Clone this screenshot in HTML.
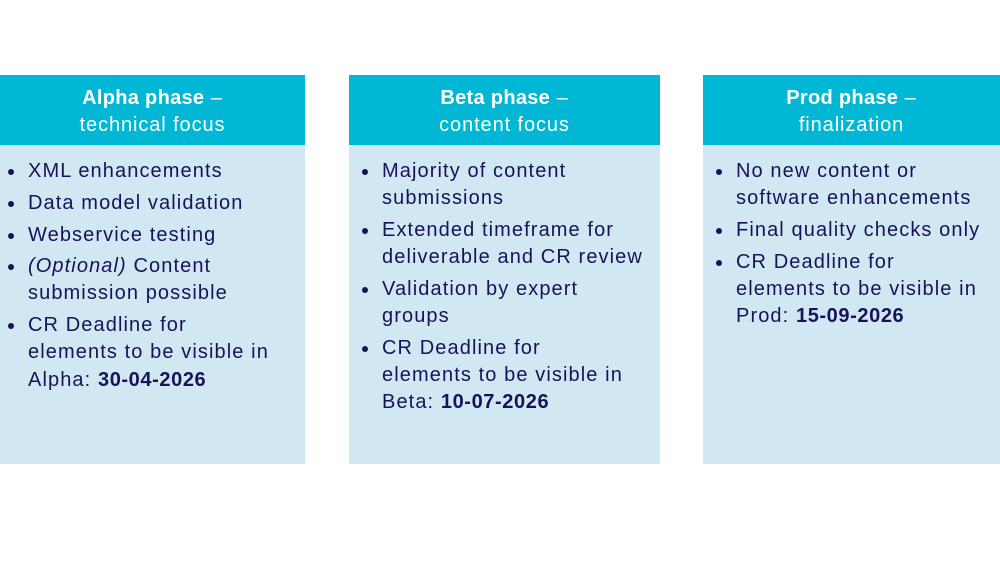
<!DOCTYPE html>
<html><head><meta charset="utf-8"><style>
body{margin:0;width:1000px;height:563px;background:#fff;position:relative;overflow:hidden;font-family:"Liberation Sans",sans-serif}
.col{position:absolute;top:75px;height:389px;background:#d1e7f1}
.hd{height:70px;background:#00b8d6;color:#fff;text-align:center;font-size:20px;line-height:27px;padding-top:10px;box-sizing:border-box;letter-spacing:0.9px}
.hd b{font-weight:bold;letter-spacing:0.3px}
.l{position:absolute;white-space:nowrap;font-size:20px;color:#14145a;line-height:27px;letter-spacing:1.1px}
.l b{letter-spacing:0.6px}
.d{position:absolute;width:6px;height:6px;border-radius:50%;background:#14145a}
</style></head><body>
<div class="col" style="left:0;width:305px"><div class="hd"><b>Alpha phase</b> –<br>technical focus</div></div>
<div class="col" style="left:349px;width:311px"><div class="hd"><b>Beta phase</b> –<br>content focus</div></div>
<div class="col" style="left:703px;width:297px"><div class="hd"><b>Prod phase</b> –<br>finalization</div></div>

<div class="d" style="left:8px;top:169px"></div><div class="l" style="left:28px;top:158px">XML enhancements</div>
<div class="d" style="left:8px;top:201px"></div><div class="l" style="left:28px;top:190px">Data model validation</div>
<div class="d" style="left:8px;top:233px"></div><div class="l" style="left:28px;top:222px">Webservice testing</div>
<div class="d" style="left:8px;top:264px"></div><div class="l" style="left:28px;top:253px"><i>(Optional)</i> Content</div>
<div class="l" style="left:28px;top:280px">submission possible</div>
<div class="d" style="left:8px;top:323px"></div><div class="l" style="left:28px;top:312px">CR Deadline for</div>
<div class="l" style="left:28px;top:339px">elements to be visible in</div>
<div class="l" style="left:28px;top:367px">Alpha: <b>30-04-2026</b></div>

<div class="d" style="left:362px;top:169px"></div><div class="l" style="left:382px;top:158px">Majority of content</div>
<div class="l" style="left:382px;top:185px">submissions</div>
<div class="d" style="left:362px;top:228px"></div><div class="l" style="left:382px;top:217px">Extended timeframe for</div>
<div class="l" style="left:382px;top:244px">deliverable and CR review</div>
<div class="d" style="left:362px;top:287px"></div><div class="l" style="left:382px;top:276px">Validation by expert</div>
<div class="l" style="left:382px;top:303px">groups</div>
<div class="d" style="left:362px;top:346px"></div><div class="l" style="left:382px;top:335px">CR Deadline for</div>
<div class="l" style="left:382px;top:362px">elements to be visible in</div>
<div class="l" style="left:382px;top:389px">Beta: <b>10-07-2026</b></div>

<div class="d" style="left:716px;top:169px"></div><div class="l" style="left:736px;top:158px">No new content or</div>
<div class="l" style="left:736px;top:185px">software enhancements</div>
<div class="d" style="left:716px;top:228px"></div><div class="l" style="left:736px;top:217px">Final quality checks only</div>
<div class="d" style="left:716px;top:260px"></div><div class="l" style="left:736px;top:249px">CR Deadline for</div>
<div class="l" style="left:736px;top:276px">elements to be visible in</div>
<div class="l" style="left:736px;top:303px">Prod: <b>15-09-2026</b></div>
</body></html>
